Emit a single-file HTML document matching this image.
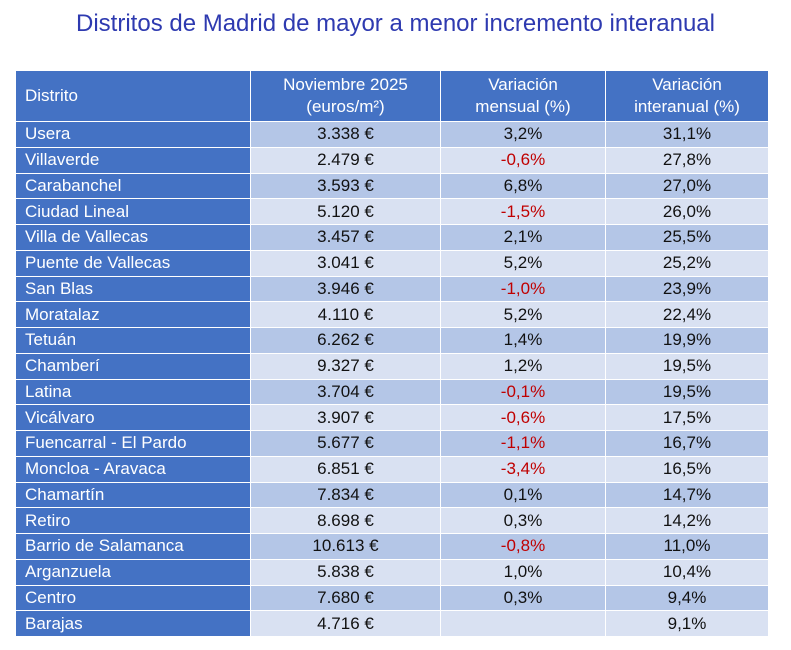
<!DOCTYPE html>
<html><head><meta charset="utf-8">
<style>
body{margin:0;width:791px;height:650px;background:#fff;font-family:"Liberation Sans",sans-serif;overflow:hidden;position:relative}
#title{position:absolute;left:0;top:10px;width:791px;text-align:center;color:#2e3ab0;font-size:24px}
table{position:absolute;left:15px;top:70px;border-collapse:collapse;table-layout:fixed;width:753px;font-size:17px}
td,th{border:1.5px solid #fff;padding:0;text-align:center;color:#111;font-weight:normal}
th{background:#4472c4;color:#fff;height:50px;line-height:22px}
th.l,td.l{text-align:left;padding-left:9px;background:#4472c4;color:#fff}
tr.o td{background:#b4c6e7}
tr.e td{background:#d9e1f2}
tr.o td.l,tr.e td.l{background:#4472c4}
tbody tr{height:25.75px}
.r{color:#c00000!important}
</style></head><body>
<div id="title">Distritos de Madrid de mayor a menor incremento interanual</div>
<table>
<colgroup><col style="width:235px"><col style="width:190px"><col style="width:165px"><col style="width:163px"></colgroup>
<thead><tr>
<th class="l">Distrito</th>
<th>Noviembre 2025<br>(euros/m²)</th>
<th>Variación<br>mensual (%)</th>
<th>Variación<br>interanual (%)</th>
</tr></thead>
<tbody>
<tr class="o"><td class="l">Usera</td><td>3.338 €</td><td>3,2%</td><td>31,1%</td></tr>
<tr class="e"><td class="l">Villaverde</td><td>2.479 €</td><td class="r">-0,6%</td><td>27,8%</td></tr>
<tr class="o"><td class="l">Carabanchel</td><td>3.593 €</td><td>6,8%</td><td>27,0%</td></tr>
<tr class="e"><td class="l">Ciudad Lineal</td><td>5.120 €</td><td class="r">-1,5%</td><td>26,0%</td></tr>
<tr class="o"><td class="l">Villa de Vallecas</td><td>3.457 €</td><td>2,1%</td><td>25,5%</td></tr>
<tr class="e"><td class="l">Puente de Vallecas</td><td>3.041 €</td><td>5,2%</td><td>25,2%</td></tr>
<tr class="o"><td class="l">San Blas</td><td>3.946 €</td><td class="r">-1,0%</td><td>23,9%</td></tr>
<tr class="e"><td class="l">Moratalaz</td><td>4.110 €</td><td>5,2%</td><td>22,4%</td></tr>
<tr class="o"><td class="l">Tetuán</td><td>6.262 €</td><td>1,4%</td><td>19,9%</td></tr>
<tr class="e"><td class="l">Chamberí</td><td>9.327 €</td><td>1,2%</td><td>19,5%</td></tr>
<tr class="o"><td class="l">Latina</td><td>3.704 €</td><td class="r">-0,1%</td><td>19,5%</td></tr>
<tr class="e"><td class="l">Vicálvaro</td><td>3.907 €</td><td class="r">-0,6%</td><td>17,5%</td></tr>
<tr class="o"><td class="l">Fuencarral - El Pardo</td><td>5.677 €</td><td class="r">-1,1%</td><td>16,7%</td></tr>
<tr class="e"><td class="l">Moncloa - Aravaca</td><td>6.851 €</td><td class="r">-3,4%</td><td>16,5%</td></tr>
<tr class="o"><td class="l">Chamartín</td><td>7.834 €</td><td>0,1%</td><td>14,7%</td></tr>
<tr class="e"><td class="l">Retiro</td><td>8.698 €</td><td>0,3%</td><td>14,2%</td></tr>
<tr class="o"><td class="l">Barrio de Salamanca</td><td>10.613 €</td><td class="r">-0,8%</td><td>11,0%</td></tr>
<tr class="e"><td class="l">Arganzuela</td><td>5.838 €</td><td>1,0%</td><td>10,4%</td></tr>
<tr class="o"><td class="l">Centro</td><td>7.680 €</td><td>0,3%</td><td>9,4%</td></tr>
<tr class="e"><td class="l">Barajas</td><td>4.716 €</td><td></td><td>9,1%</td></tr>
</tbody></table>
</body></html>
